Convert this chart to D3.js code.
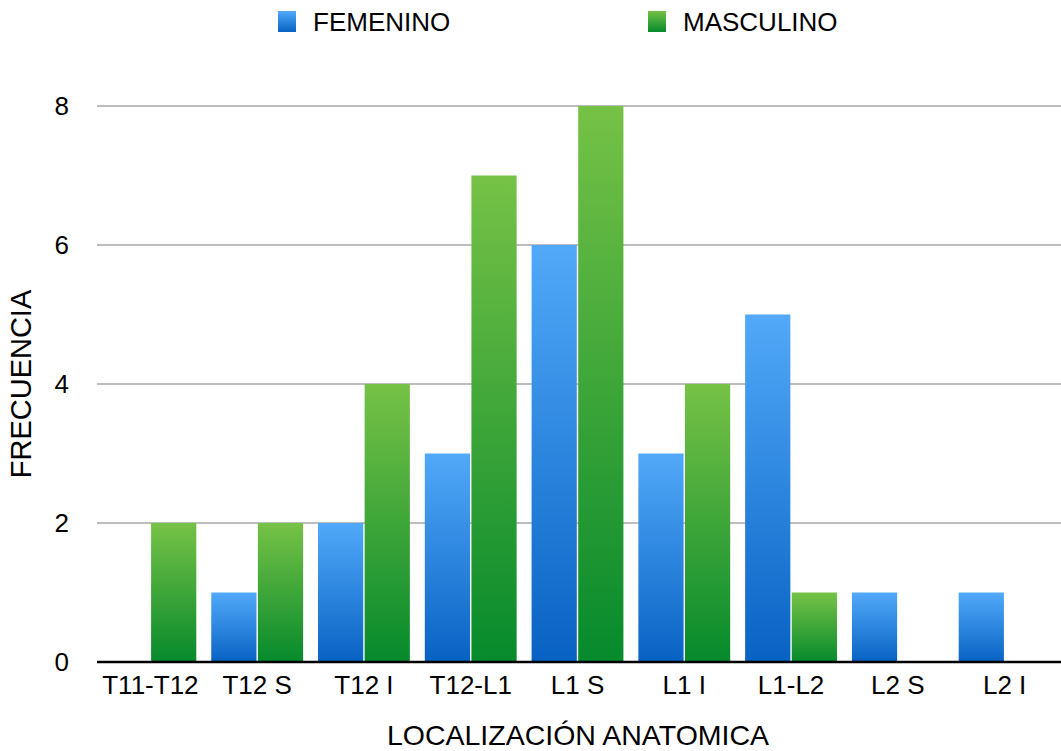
<!DOCTYPE html>
<html>
<head>
<meta charset="utf-8">
<script src="https://cdn.jsdelivr.net/npm/d3@7"></script>
<style>
  body { margin: 0; background: #fff; }
  text { font-family: "Liberation Sans", Helvetica, Arial, sans-serif; fill: #000; }
</style>
</head>
<body>
<div id="chart"></div>
<script>
const width = 1061;
const height = 751;
const margin = { top: 106, right: 0, bottom: 89, left: 97 };

const categories = ["T11-T12", "T12 S", "T12 I", "T12-L1", "L1 S", "L1 I", "L1-L2", "L2 S", "L2 I"];
const series = ["FEMENINO", "MASCULINO"];
const femenino = [0, 1, 2, 3, 6, 3, 5, 1, 1];
const masculino = [2, 2, 4, 7, 8, 4, 1, 0, 0];
const yTicks = [0, 2, 4, 6, 8];

const values = { FEMENINO: femenino, MASCULINO: masculino };
const colors = {
  FEMENINO: ["#52a9f9", "#0862c3"],
  MASCULINO: ["#76c246", "#068a2c"]
};

const svg = d3
  .select("#chart")
  .append("svg")
  .attr("width", width)
  .attr("height", height);

const defs = svg.append("defs");
series.forEach((s, i) => {
  const grad = defs
    .append("linearGradient")
    .attr("id", "grad" + i)
    .attr("x1", 0).attr("y1", 0)
    .attr("x2", 0).attr("y2", 1);
  grad.append("stop").attr("offset", "0%").attr("stop-color", colors[s][0]);
  grad.append("stop").attr("offset", "100%").attr("stop-color", colors[s][1]);
});

const x0 = d3
  .scaleBand()
  .domain(categories)
  .range([margin.left, 1058])
  .paddingInner(0.14)
  .paddingOuter(0.07);

const x1 = d3
  .scaleBand()
  .domain(series)
  .range([0, x0.bandwidth()])
  .paddingInner(0.03);

const y = d3
  .scaleLinear()
  .domain([0, 8])
  .range([height - margin.bottom, margin.top]);

// gridlines
svg.append("g")
  .selectAll("line")
  .data(yTicks.filter((d) => d > 0))
  .enter()
  .append("line")
  .attr("x1", margin.left)
  .attr("x2", width)
  .attr("y1", (d) => y(d))
  .attr("y2", (d) => y(d))
  .attr("stroke", "#bdbdbd")
  .attr("stroke-width", 2);

// bars
const groups = svg.append("g")
  .selectAll("g")
  .data(categories)
  .enter()
  .append("g")
  .attr("transform", (d) => `translate(${x0(d)},0)`);

groups.selectAll("rect")
  .data((c, ci) => series.map((s, si) => ({ s, si, v: values[s][ci] })).filter((d) => d.v > 0))
  .enter()
  .append("rect")
  .attr("x", (d) => x1(d.s))
  .attr("width", x1.bandwidth())
  .attr("y", (d) => y(d.v))
  .attr("height", (d) => y(0) - y(d.v))
  .attr("fill", (d) => `url(#grad${d.si})`);

// y axis labels
const yAxis = svg.append("g")
  .attr("transform", `translate(${margin.left},0)`)
  .call(d3.axisLeft(y).tickValues(yTicks).tickSize(0).tickPadding(28));
yAxis.select(".domain").remove();
yAxis.selectAll("text")
  .style("font-size", "26px")
  .attr("fill", "#000");

// x axis
const xAxis = svg.append("g")
  .attr("transform", `translate(0,${y(0)})`)
  .call(d3.axisBottom(x0).tickSize(0).tickPadding(14));
xAxis.select(".domain").remove();
xAxis.selectAll("text")
  .style("font-size", "26px")
  .attr("fill", "#000");

svg.append("line")
  .attr("x1", margin.left)
  .attr("x2", width)
  .attr("y1", y(0))
  .attr("y2", y(0))
  .attr("stroke", "#000")
  .attr("stroke-width", 2.5);

// axis titles
svg.append("text")
  .attr("x", 578)
  .attr("y", 745)
  .attr("text-anchor", "middle")
  .style("font-size", "28.5px")
  .text("LOCALIZACIÓN ANATOMICA");

svg.append("text")
  .attr("transform", "translate(31,384) rotate(-90)")
  .attr("text-anchor", "middle")
  .style("font-size", "29px")
  .text("FRECUENCIA");

// legend
const legendX = [278, 648];
const legend = svg.append("g")
  .selectAll("g")
  .data(series)
  .enter()
  .append("g")
  .attr("transform", (d, i) => `translate(${legendX[i]},11)`);

legend.append("rect")
  .attr("width", 18)
  .attr("height", 21)
  .attr("fill", (d, i) => `url(#grad${i})`);

legend.append("text")
  .attr("x", 35)
  .attr("y", 20)
  .style("font-size", "26px")
  .text((d) => d);
</script>
</body>
</html>
